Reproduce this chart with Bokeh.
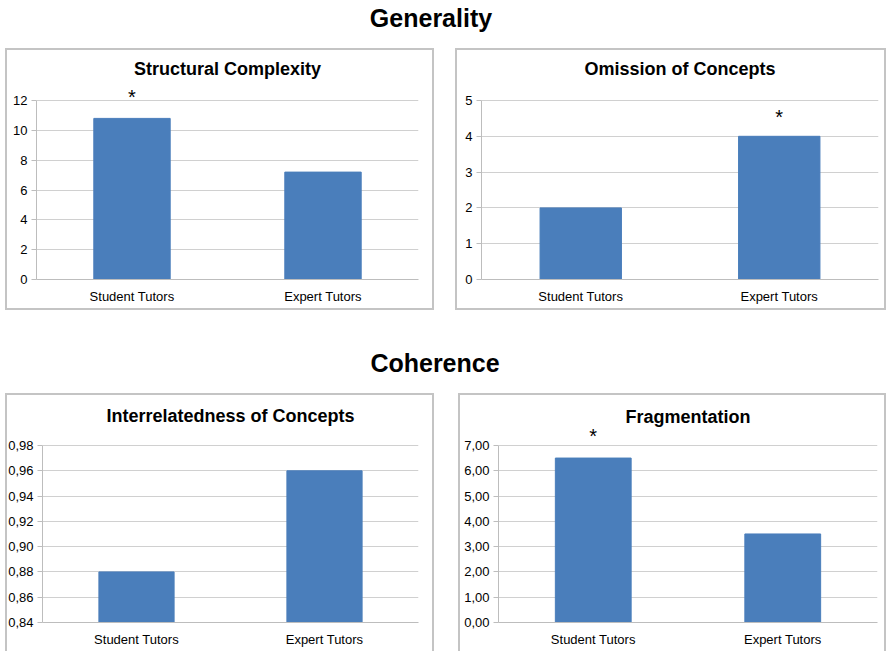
from bokeh.plotting import figure
from bokeh.models import (Div, Spacer, Range1d, FactorRange, FixedTicker,
                          CustomJSTickFormatter, Label, ColumnDataSource)
from bokeh.layouts import column, row
from bokeh.embed import file_html
from bokeh.resources import INLINE

# ---------------- data ----------------
categories = ["Student Tutors", "Expert Tutors"]

section_titles = ["Generality", "Coherence"]

titles = ["Structural Complexity", "Omission of Concepts",
          "Interrelatedness of Concepts", "Fragmentation"]

structural_complexity = [10.8, 7.2]
omission_of_concepts = [2.0, 4.0]
interrelatedness = [0.88, 0.96]
fragmentation = [6.5, 3.5]

ticks_structural = [0, 2, 4, 6, 8, 10, 12]
ticks_omission = [0, 1, 2, 3, 4, 5]
ticks_interrelated = [0.84, 0.86, 0.88, 0.90, 0.92, 0.94, 0.96, 0.98]
ticks_fragmentation = [0, 1, 2, 3, 4, 5, 6, 7]

decimals = [0, 0, 2, 2]

# significance marker (*) above the category
significant = ["Student Tutors", "Expert Tutors", None, "Student Tutors"]

# ---------------- style ----------------
FONT = "Liberation Sans"
BAR = "#4a7ebb"
GRID = "#d0d0d0"
AXIS = "#bdbdbd"
BORDER = "#c4c4c4"


def panel(title, values, ticks, dec, sig, width, height, left, right,
          frame_top, tick_top, bottom, title_offset, title_standoff,
          star_offset, bar_width=0.4, bottom_border=True):
    # extend the range above the top tick so that the asterisk fits in the frame
    span = ticks[-1] - ticks[0]
    tick_px = height - bottom - tick_top
    pad = (tick_top - frame_top) * span / tick_px
    p = figure(x_range=FactorRange(*categories),
               y_range=Range1d(ticks[0], ticks[-1] + pad),
               width=width, height=height,
               output_backend="svg", toolbar_location=None,
               min_border_left=left, min_border_right=right,
               min_border_top=frame_top, min_border_bottom=bottom,
               border_fill_color=None, background_fill_color=None,
               outline_line_color=None)
    src = ColumnDataSource(dict(cat=categories, val=values))
    p.vbar(x="cat", top="val", bottom=ticks[0], width=bar_width, source=src,
           fill_color=BAR, line_color=BAR)

    p.title.text = title
    p.title.align = "center"
    p.title.text_font = FONT
    p.title.text_font_size = "18px"
    p.title.text_font_style = "bold"
    p.title.text_color = "black"
    p.title.offset = title_offset
    p.title.standoff = title_standoff

    p.xgrid.grid_line_color = None
    p.ygrid.grid_line_color = GRID
    p.ygrid.grid_line_width = 1

    p.yaxis.ticker = FixedTicker(ticks=ticks)
    p.yaxis.bounds = (ticks[0], ticks[-1])
    p.yaxis.formatter = CustomJSTickFormatter(
        args=dict(d=dec), code="return tick.toFixed(d).replace('.', ',');")
    for ax in (p.xaxis[0], p.yaxis[0]):
        ax.axis_line_color = AXIS
        ax.major_tick_line_color = AXIS
        ax.minor_tick_line_color = None
        ax.major_label_text_font = FONT
        ax.major_label_text_font_size = "13px"
        ax.major_label_text_color = "black"
    p.yaxis.major_tick_out = 5
    p.yaxis.major_tick_in = 0
    p.yaxis.major_label_standoff = 4
    p.xaxis.major_tick_out = 0
    p.xaxis.major_tick_in = 0
    p.xaxis.major_label_standoff = 9

    if sig is not None:
        idx = categories.index(sig)
        v = values[idx]
        p.add_layout(Label(x=idx + 0.5, y=v, y_offset=star_offset, text="*",
                           text_font=FONT, text_font_size="20px",
                           text_align="center", text_baseline="middle",
                           text_color="black"))

    shadows = [f"inset 2px 0 0 {BORDER}", f"inset -2px 0 0 {BORDER}",
               f"inset 0 2px 0 {BORDER}"]
    if bottom_border:
        shadows.append(f"inset 0 -2px 0 {BORDER}")
    p.styles = {"box-shadow": ", ".join(shadows)}
    return p


p1 = panel(titles[0], structural_complexity, ticks_structural, decimals[0],
           significant[0], 429, 262, 31, 16, 34, 52, 31, -7, 7, 21)
p2 = panel(titles[1], omission_of_concepts, ticks_omission, decimals[1],
           significant[1], 431, 262, 26, 8, 34, 52, 31, -5, 7, 19,
           bar_width=0.41)
p3 = panel(titles[2], interrelatedness, ticks_interrelated, decimals[2],
           significant[2], 429, 258, 36, 16, 34, 52, 29, -8, 3, 20,
           bottom_border=False)
p4 = panel(titles[3], fragmentation, ticks_fragmentation, decimals[3],
           significant[3], 428, 258, 40, 9, 33, 51, 29, -15, 2, 22,
           bottom_border=False)


def heading(text, height, pad_top, shift):
    return Div(text=text, width=886, height=height, margin=(0, 0, 0, 0),
               styles={"font-family": FONT, "font-size": "25px",
                       "font-weight": "bold", "color": "black",
                       "text-align": "center", "line-height": "28px",
                       "padding-top": f"{pad_top}px",
                       "padding-right": f"{shift}px",
                       "box-sizing": "border-box"})


h1 = heading(section_titles[0], 48, 4, 24)
h2 = heading(section_titles[1], 83, 39, 16)

row1 = row(Spacer(width=5, height=262), p1, Spacer(width=21, height=262), p2)
row2 = row(Spacer(width=5, height=258), p3, Spacer(width=24, height=258), p4)
layout = column(h1, row1, h2, row2)

open("out.html", "w").write(file_html(layout, INLINE))
